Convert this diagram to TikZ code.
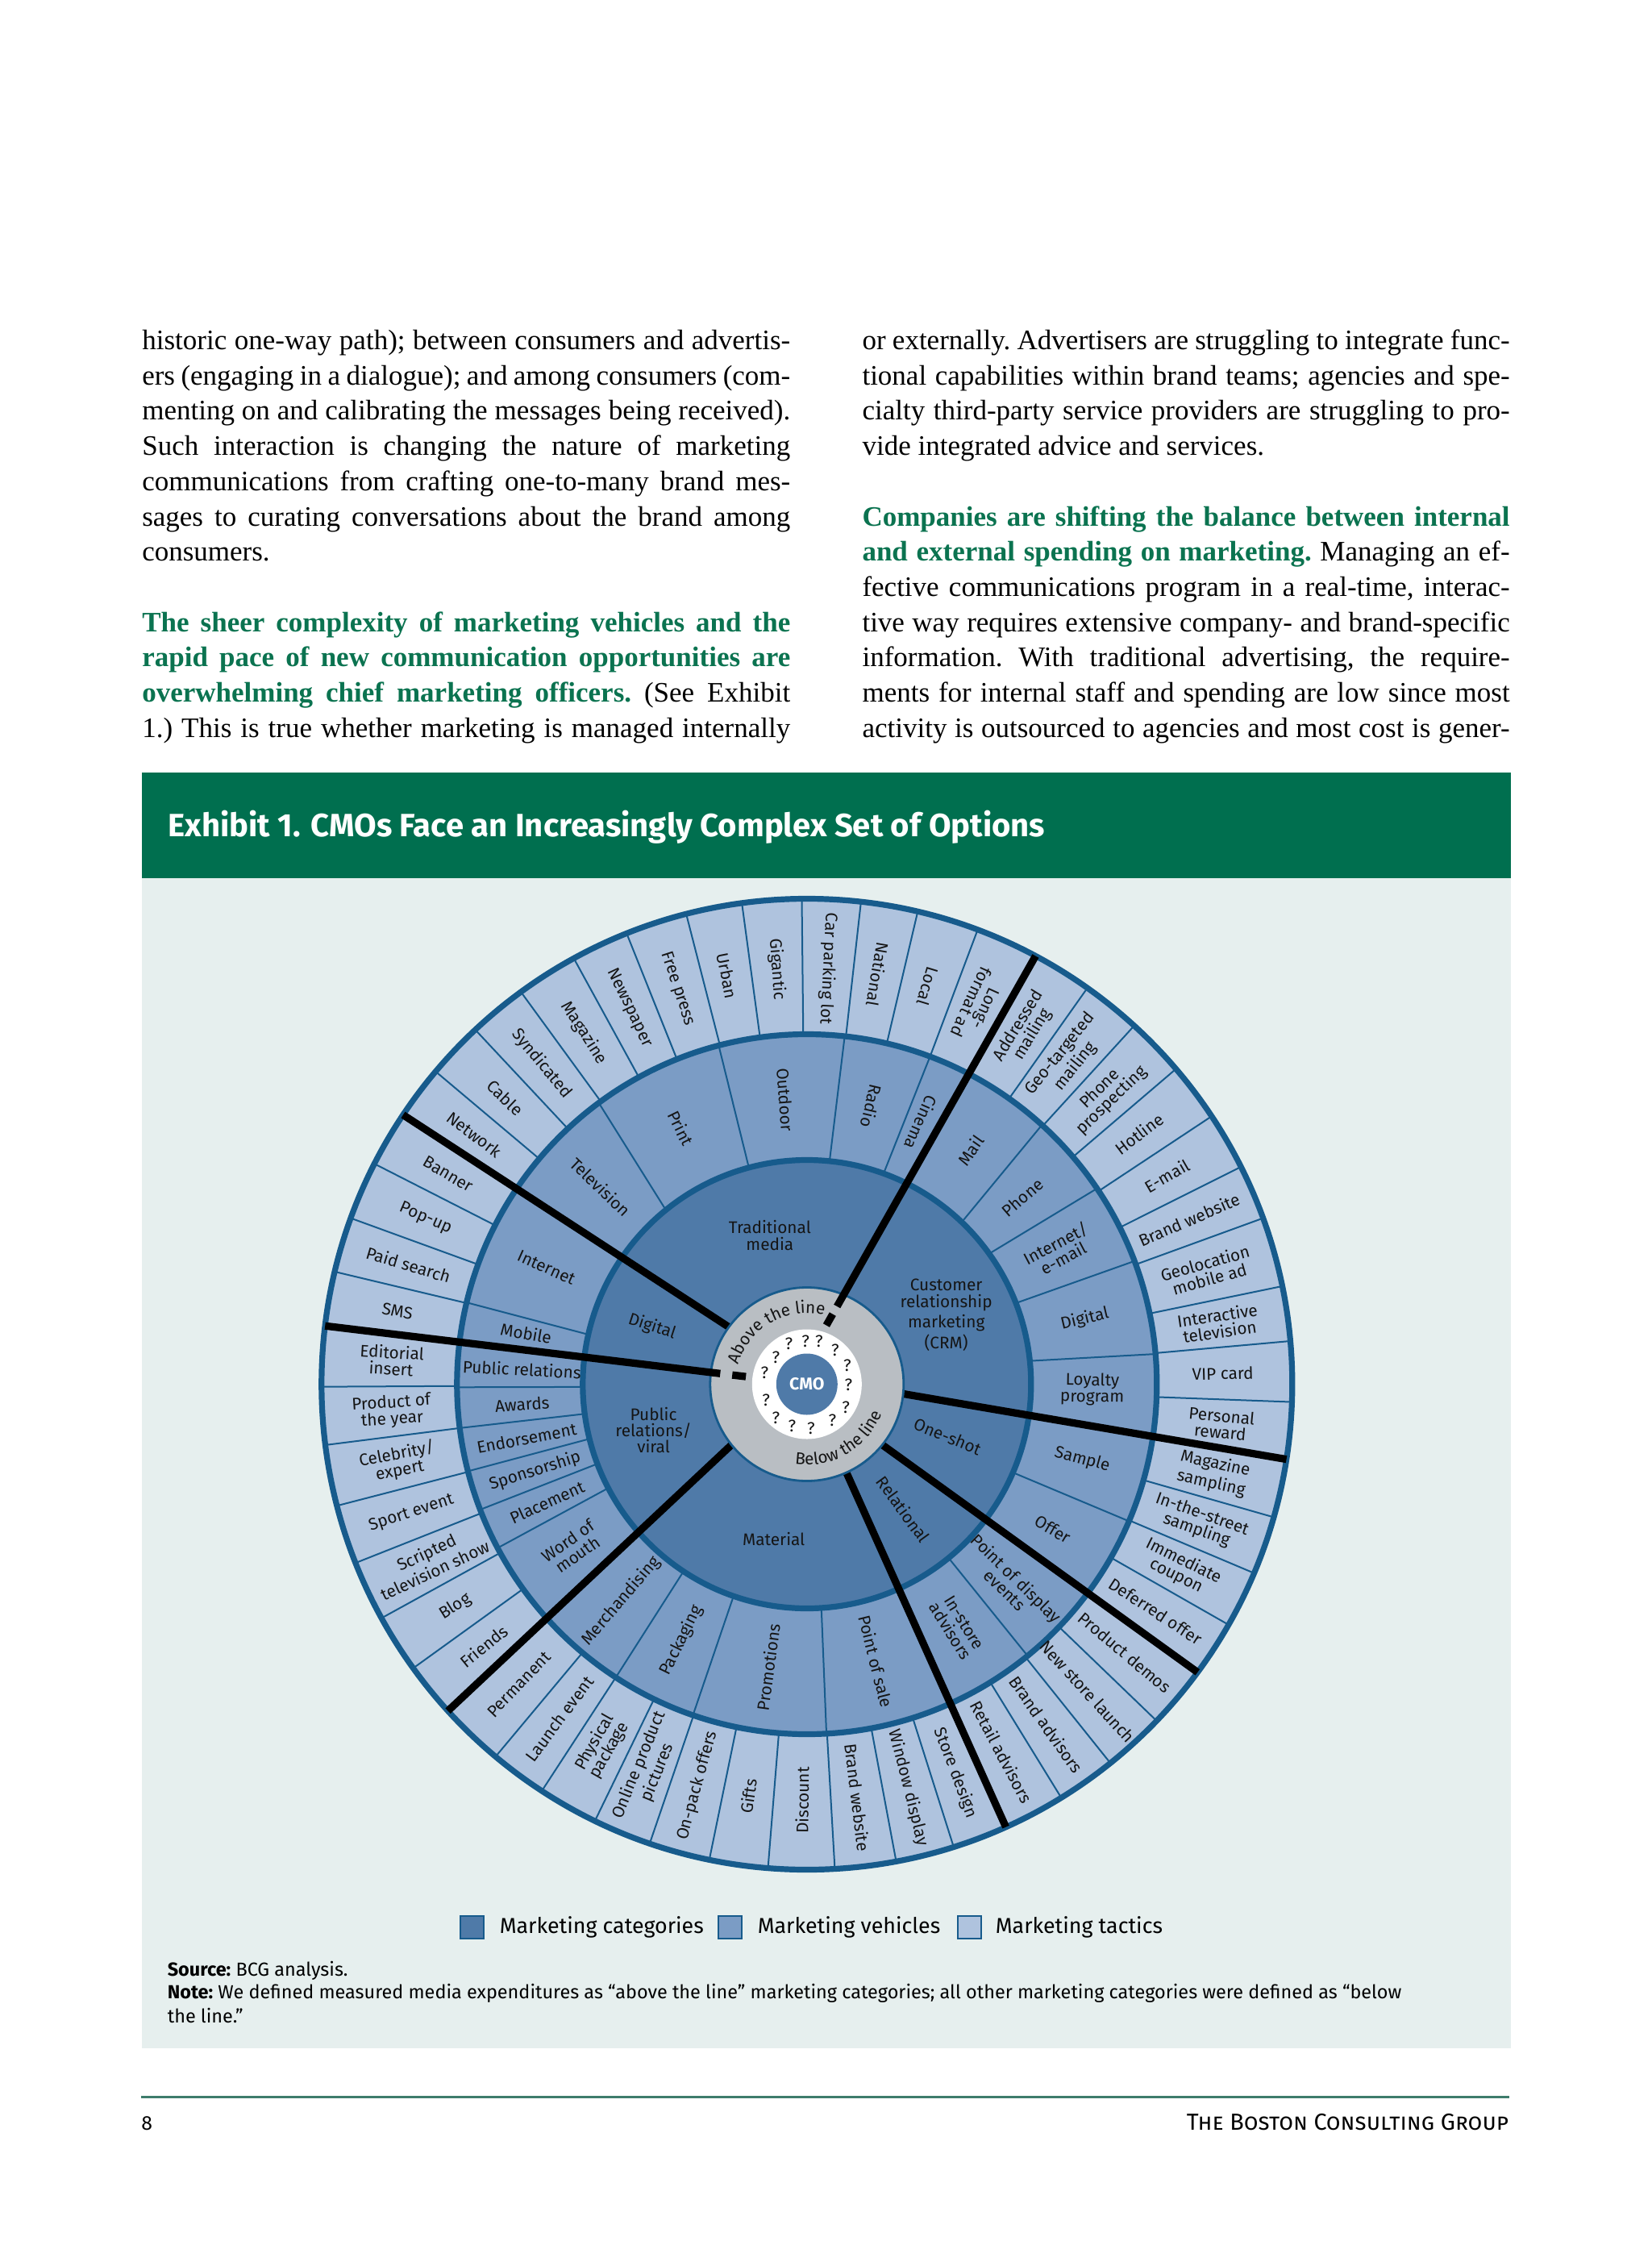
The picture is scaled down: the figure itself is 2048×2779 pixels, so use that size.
\documentclass[tikz,border=0pt]{standalone}
\usepackage{fontspec}
\setmainfont{Liberation Serif}
\newfontfamily\fira{Fira Sans}
\usetikzlibrary{decorations.text}
\definecolor{catc}{HTML}{4F7AA8}
\definecolor{vehc}{HTML}{7B9CC5}
\definecolor{tacc}{HTML}{AFC3DE}
\definecolor{bordc}{HTML}{175B8C}
\definecolor{grayc}{HTML}{B9BEC3}
\definecolor{panelc}{HTML}{E6EFEE}
\definecolor{headc}{HTML}{006F4F}
\definecolor{greentxt}{HTML}{0B7350}
\definecolor{footc}{HTML}{3E7C6C}
\definecolor{inkc}{HTML}{151515}
\newcommand\wf{\fira\fontsize{5.2pt}{5.1pt}\selectfont}
\newcommand\bodyf{\frenchspacing\fontsize{8.75pt}{10.9pt}\selectfont}
\newcommand\jl[1]{\makebox[201pt][s]{#1}}
\newcommand\jr[1]{\makebox[200.8pt][s]{#1}}
\newcommand\gb[1]{\textcolor{greentxt}{\bfseries #1}}
\tikzset{
  wlab/.style={font=\wf, text=inkc, align=center, inner sep=0pt},
  thinb/.style={draw=bordc, line width=0.5pt},
  ringb/.style={draw=bordc, line width=1.8pt},
  blk/.style={draw=black, line width=2.3pt},
  bodyl/.style={anchor=base west, inner sep=0pt, font=\bodyf, text=black},
  qm/.style={font=\wf, text=inkc, inner sep=0pt},
  legbox/.style={draw=bordc, line width=0.6pt, minimum width=7.25pt, minimum height=7pt, inner sep=0pt, anchor=north west},
  legt/.style={anchor=base west, inner sep=0pt, font=\fira\fontsize{6.7pt}{8pt}\selectfont, text=black},
  smallt/.style={anchor=base west, inner sep=0pt, font=\fira\frenchspacing\fontsize{5.86pt}{7.5pt}\selectfont, text=black},
}
\begin{document}
\begin{tikzpicture}[x=0.25pt,y=-0.25pt]
\useasboundingbox (0,0) rectangle (2048,2779);
\fill[white] (0,0) rectangle (2048,2779);

% ---------- body text, left column ----------
\node[bodyl] (l1) at (175.5,433.6) {\jl{historic one-way path); between consumers and advertis-}};
\node[bodyl] (l2) at (175.5,477.3) {\jl{ers (engaging in a dialogue); and among consumers (com-}};
\node[bodyl] (l3) at (175.5,521.0) {\jl{menting on and calibrating the messages being received).}};
\node[bodyl] (l4) at (175.5,564.7) {\jl{Such interaction is changing the nature of marketing}};
\node[bodyl] (l5) at (175.5,608.4) {\jl{communications from crafting one-to-many brand mes-}};
\node[bodyl] (l6) at (175.5,652.1) {\jl{sages to curating conversations about the brand among}};
\node[bodyl] (l7) at (175.5,695.8) {consumers.};
\node[bodyl] (l8) at (175.5,783.2) {\jl{\gb{The sheer complexity of marketing vehicles and the}}};
\node[bodyl] (l9) at (175.5,826.9) {\jl{\gb{rapid pace of new communication opportunities are}}};
\node[bodyl] (l10) at (175.5,870.6) {\jl{\gb{overwhelming chief marketing officers.} (See Exhibit}};
\node[bodyl] (l11) at (175.5,914.3) {\jl{1.) This is true whether marketing is managed internally}};

% ---------- body text, right column ----------
\node[bodyl] (r1) at (1068.7,433.6) {\jr{or externally. Advertisers are struggling to integrate func-}};
\node[bodyl] (r2) at (1068.7,477.3) {\jr{tional capabilities within brand teams; agencies and spe-}};
\node[bodyl] (r3) at (1068.7,521.0) {\jr{cialty third-party service providers are struggling to pro-}};
\node[bodyl] (r4) at (1068.7,564.7) {vide integrated advice and services.};
\node[bodyl] (r5) at (1068.7,652.1) {\jr{\gb{Companies are shifting the balance between internal}}};
\node[bodyl] (r6) at (1068.7,695.8) {\jr{\gb{and external spending on marketing.} Managing an ef-}};
\node[bodyl] (r7) at (1068.7,739.5) {\jr{fective communications program in a real-time, interac-}};
\node[bodyl] (r8) at (1068.7,783.2) {\jr{tive way requires extensive company- and brand-specific}};
\node[bodyl] (r9) at (1068.7,826.9) {\jr{information. With traditional advertising, the require-}};
\node[bodyl] (r10) at (1068.7,870.6) {\jr{ments for internal staff and spending are low since most}};
\node[bodyl] (r11) at (1068.7,914.3) {\jr{activity is outsourced to agencies and most cost is gener-}};

% ---------- exhibit panel ----------
\fill[headc] (175.5,958) rectangle (1873.5,1089);
\fill[panelc] (175.5,1089) rectangle (1873.5,2540);
\node[anchor=base west, inner sep=0pt, text=white, font=\fira\bfseries\fontsize{10pt}{11pt}\selectfont] (title) at (208,1037) {Exhibit 1. CMOs Face an Increasingly Complex Set of Options};

% ---------- wheel ----------
\begin{scope}[shift={(250.2pt,-429.125pt)}, x=0.25pt, y=0.25pt]
  \fill[tacc] (0,0) circle (602);
  \fill[vehc] (0,0) circle (434);
  \fill[catc] (0,0) circle (278);
  % tactic boundaries
  \foreach \a in {5.1,11.65,20.0,26.6,33.5,40.5,47.6,54.7,69.4,76.8,83.6,90.6,97.7,104.4,111.8,118.7,126.1,133.1,139.9,153.0,160.0,166.6,180.3,187.2,194.5,201.6,208.8,215.8,230.1,236.9,244.1,251.1,258.4,265.4,273.3,280.6,287.6,301.6,308.7,316.1,330.3,337.1,344.1,357.9}
    \draw[thinb] (\a:434) -- (\a:602);
  % vehicle boundaries (inner/outer angle)
  \foreach \i/\o in {70.0/69.4,84.2/83.8,105/104.6,129/126.5,167.2/166.5,180.7/180.5,187.6/187.2,194.1/194.4,200.8/201,207.6/207.9,236.6/236.9,250.9/251,273.7/273.2,309.2/309.1,336.8/336.96,5.96/4.95,21.2/20.6,35.6/34.0,46.3/47.8}
    \draw[thinb] (\i:278) -- (\o:434);
  % ring borders
  \draw[ringb] (0,0) circle (602);
  \draw[ringb] (0,0) circle (434);
  \draw[ringb] (0,0) circle (278);
  % category dividers
  \draw[blk] (146.3:602) -- (143.8:120);
  \draw[blk] (222.3:602) -- (218.8:120);
  \draw[blk] (294.2:602) -- (294.1:120);
  \draw[blk] (323.6:602) -- (321.2:120);
  \draw[blk] (351.1:602) -- (354.3:120);
  % centre rings
  \fill[grayc] (0,0) circle (120);
  \draw[draw=bordc, line width=0.7pt] (0,0) circle (120);
  \draw[blk] (283.6,531.0) -- (37.4,96.5);
  \draw[blk] (32.0,86.9) -- (24.1,73.0);
  \draw[blk] (-597.6,72.3) -- (-107.5,13.2);
  \draw[blk] (-92.6,11.4) -- (-75.7,9.4);
  \fill[white] (0,0) circle (68);
  \fill[catc] (0,0) circle (38);
  \node[font=\fira\bfseries\fontsize{5.3pt}{6pt}\selectfont, text=white, inner sep=0pt] (cmo) at (0,0) {CMO};
  \foreach \x/\y [count=\k] in {-22.3/50,-1.7/53.3,15/53.3,35/41.7,50/23.3,51.7/-1,48.3/-29,31.7/-45,5/-55,-18.3/-52.3,-38.3/-41.7,-50.7/-20,-52.3/14.3,-38.3/33.3}
    \node[qm] (q\k) at (\x,\y) {?};
  \path[decorate, decoration={text along path, text={|\wf\color{inkc}|Above the line}, text align=center}] (180:88) arc (180:60:88);
  \path[decorate, decoration={text along path, text={|\wf\color{inkc}|Below the line}, text align=center}] (240:100) arc (240:360:100);
  % category labels
  \node[wlab] (ctm) at (104:190) {Traditional\\media};
  \node[wlab] (ccrm) at (26.4:193) {Customer\\relationship\\marketing\\(CRM)};
  \node[wlab, rotate=-18] (cdig) at (159.6:205) {Digital};
  \node[wlab] (cpr) at (196.7:198.6) {Public\\relations/\\viral};
  \node[wlab] (cmat) at (257.9:196) {Material};
  \node[wlab, rotate=-54] (crel) at (307.7:195.7) {Relational};
  \node[wlab, rotate=-22] (cone) at (339.6:186) {One-shot};
  % vehicle labels
  \foreach \a/\t [count=\i] in {66.4/Cinema, 76.9/Radio, 94.4/Outdoor, 116.2/Print, 136.3/Television, 155.9/Internet, 169.7/Mobile, 177/{Public relations}, 184/Awards, 190.9/Endorsement, 197.7/Sponsorship, 204.4/Placement, 214.9/{Word of\\mouth}, 229.4/Merchandising, 243.9/Packaging, 262.2/Promotions, 284/{Point of sale}, 301.8/{In-store\\advisors}, 315.6/{Point of display\\events}, 329.5/Offer, 344.7/Sample, -1/{Loyalty\\program}, 13.2/Digital, 27.9/{Internet/\\e-mail}, 40.9/Phone, 55/Mail}{
    \pgfmathsetmacro\r{\a+180*(\a>61.9)*(\a<270)}
    \node[wlab, rotate=\r] (v\i) at (\a:354) {\t};
  }
  % tactic labels
  \foreach \a/\t [count=\i] in {-5.5/{Personal\\reward}, 1.5/{VIP card}, 8.4/{Interactive\\television}, 15.8/{Geolocation\\mobile ad}, 23.3/{Brand website}, 30.05/{E-mail}, 37.0/{Hotline}, 44.05/{Phone\\prospecting}, 51.15/{Geo-targeted\\mailing}, 58.3/{Addressed\\mailing}, 65.65/{Long-\\format ad}, 73.1/Local, 80.2/National, 87.1/{Car parking lot}, 94.15/Gigantic, 101.05/Urban, 108.1/{Free press}, 115.25/Newspaper, 122.4/Magazine, 129.6/Syndicated, 136.5/Cable, 143.1/Network, 149.65/Banner, 156.5/Pop-up, 163.3/{Paid search}, 169.85/SMS, 176.7/{Editorial\\insert}, 183.75/{Product of\\the year}, 190.85/{Celebrity/\\expert}, 198.05/{Sport event}, 205.2/{Scripted\\television show}, 212.3/Blog, 219.05/Friends, 226.2/Permanent, 233.5/{Launch event}, 240.5/{Physical\\package}, 247.6/{Online product\\pictures}, 254.75/{On-pack offers}, 261.9/Gifts, 269.35/Discount, 276.95/{Brand website}, 284.1/{Window display}, 290.9/{Store design}, 297.9/{Retail advisors}, 305.15/{Brand advisors}, 312.4/{New store launch}, 319.85/{Product demos}, 326.95/{Deferred offer}, 333.7/{Immediate\\coupon}, 340.6/{In-the-street\\sampling}, 347.6/{Magazine\\sampling}}{
    \pgfmathsetmacro\r{\a+180*(\a>61.9)*(\a<270)}
    \node[wlab, rotate=\r] (t\i) at (\a:516) {\t};
  }
\end{scope}

% ---------- legend ----------
\node[legbox, fill=catc] (lb1) at (570,2375) {};
\node[legt] (lg1) at (619,2397) {Marketing categories};
\node[legbox, fill=vehc] (lb2) at (890,2375) {};
\node[legt] (lg2) at (939,2397) {Marketing vehicles};
\node[legbox, fill=tacc] (lb3) at (1187,2375) {};
\node[legt] (lg3) at (1234,2397) {Marketing tactics};

% ---------- source / note ----------
\node[smallt] (src) at (207,2450) {\textbf{Source:} BCG analysis.};
\node[smallt] (note1) at (207,2478) {\textbf{Note:} We defined measured media expenditures as “above the line” marketing categories; all other marketing categories were defined as “below};
\node[smallt] (note2) at (207,2508) {the line.”};

% ---------- footer ----------
\draw[footc, line width=0.75pt] (174.5,2600) -- (1872,2600);
\node[anchor=base west, inner sep=0pt, font=\fira\fontsize{6.2pt}{7pt}\selectfont] (pg) at (174.5,2641.7) {8};
\node[anchor=base east, inner sep=0pt, font=\fira\fontsize{7.2pt}{8pt}\selectfont] (bcg) at (1872,2641.7) {\textsc{The Boston Consulting Group}};
\end{tikzpicture}
\end{document}
